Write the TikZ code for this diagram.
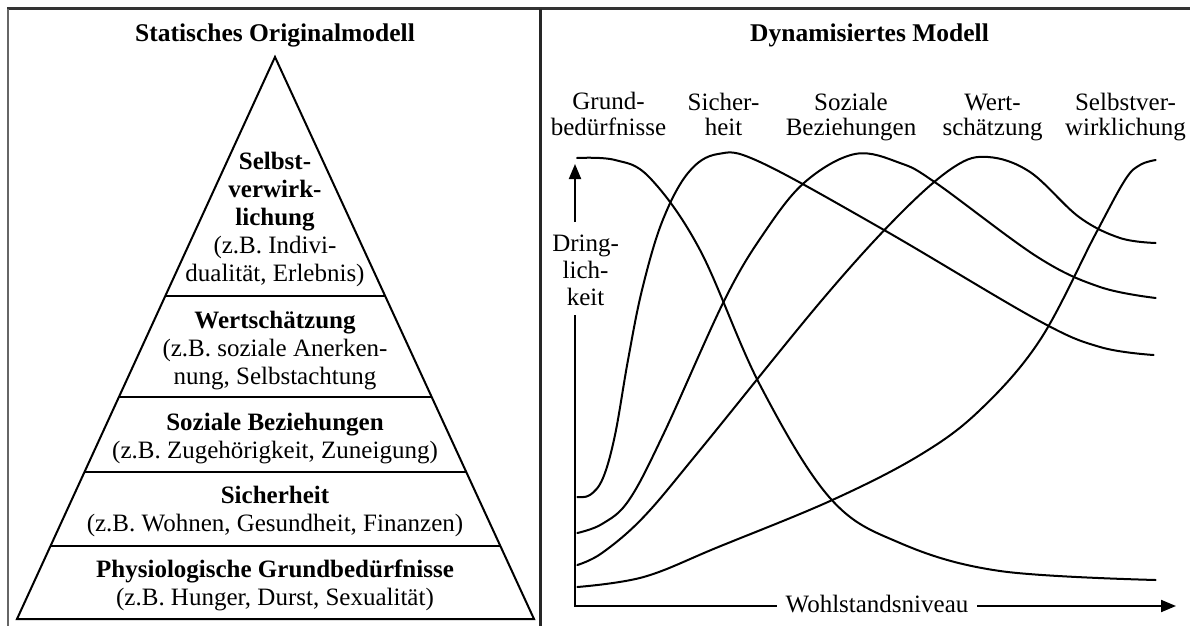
\documentclass[tikz,border=0pt]{standalone}
\usepackage{fontspec}
\setmainfont{Liberation Serif}
\usetikzlibrary{arrows.meta,calc}
\begin{document}
\begin{tikzpicture}[x=1pt,y=-1pt,
  frameline/.style={line width=3pt,black!80},
  layer/.style={line width=2pt,line join=miter},
  curve/.style={line width=2pt,line cap=round},
  txt/.style={font=\fontsize{25}{28}\selectfont,align=center,inner sep=0pt},
  ttl/.style={font=\fontsize{25.5}{28}\selectfont\bfseries,inner sep=0pt},
  lbl/.style={font=\fontsize{25}{25}\selectfont,align=center,inner sep=0pt},
  axisline/.style={line width=2pt},
  axisarrow/.style={line width=2pt,-{Triangle[length=15pt,width=12pt]}}]
\useasboundingbox (0,0) rectangle (1190,626);

% outer frame and divider
\draw[frameline] (7,9) -- (1190,9);
\draw[line width=2pt,black!60] (8,9) -- (8,626);
\draw[line width=3pt,black!85] (540,9) -- (540,626);

% ---------- left panel: pyramid ----------
\node[ttl] (t1) at (275,35.8) {\strut Statisches Originalmodell};
\coordinate (apex) at (275,57);
\coordinate (bl) at (17,619);
\coordinate (br) at (534,619);
\draw[layer] (apex) -- (bl) -- (br) -- cycle;
\foreach \t in {0.4253,0.6050,0.7384,0.8701}
  \draw[layer] ($(apex)!\t!(bl)$) -- ($(apex)!\t!(br)$);

\node[txt] (p5) at (275,220.2) {\strut\textbf{Selbst-}\\\textbf{verwirk-}\\\textbf{lichung}\\(z.B. Indivi-\\dualität, Erlebnis)\strut};
\node[txt] (p4) at (275,350.7) {\strut\textbf{Wertschätzung}\\(z.B. soziale Anerken-\\nung, Selbstachtung\strut};
\node[txt] (p3) at (275,438.7) {\strut\textbf{Soziale Beziehungen}\\(z.B. Zugehörigkeit, Zuneigung)\strut};
\node[txt] (p2) at (275,511.7) {\strut\textbf{Sicherheit}\\(z.B. Wohnen, Gesundheit, Finanzen)\strut};
\node[txt] (p1) at (275,585.7) {\strut\textbf{Physiologische Grundbedürfnisse}\\(z.B. Hunger, Durst, Sexualität)\strut};

% ---------- right panel: dynamic model ----------
\node[ttl] (t2) at (869.5,35.8) {\strut Dynamisiertes Modell};
\node[lbl] (l1) at (608.5,117.7) {\strut Grund-\\bedürfnisse\strut};
\node[lbl] (l2) at (723.5,117.7) {\strut Sicher-\\heit\strut};
\node[lbl] (l3) at (851,117.7) {\strut Soziale\\Beziehungen\strut};
\node[lbl] (l4) at (992.5,117.7) {\strut Wert-\\schätzung\strut};
\node[lbl] (l5) at (1125.5,117.7) {\strut Selbstver-\\wirklichung\strut};

% axes
\coordinate (o) at (575,606);
\coordinate (xt) at (1176,606);
\coordinate (yt) at (575,164);
\coordinate (ya) at (575,222);
\coordinate (yb) at (575,315);
\node[font=\fontsize{25}{27}\selectfont,align=center,inner sep=0pt] (dk) at (585.6,272.8) {\strut Dring-\\lich-\\keit\strut};
\node[lbl,inner xsep=8.5pt] (wn) at (877,604) {Wohlstandsniveau};
\draw[axisarrow] (ya) -- (yt);
\draw[axisline] (yb) -- (o) -- (wn.west |- o);
\draw[axisarrow] (wn.east |- o) -- (xt);

% urgency curves
% basic needs
\draw[curve] plot[smooth,tension=0.6] coordinates {
  (577,158) (615,160) (650,178) (700,250) (760,385) (830,498) (900,543)
  (1000,571) (1155.7,580)};
% safety
\draw[curve] plot[smooth,tension=0.6] coordinates {
  (577.3,497) (590,495) (603,478) (615,435) (628,360) (642,290) (662,222)
  (688,173) (718,154) (760,162) (884,230) (1037.5,320) (1100,347) (1153.6,355)};
% social relations
\draw[curve] plot[smooth,tension=0.6] coordinates {
  (577.3,533) (602,524) (629,500) (664,433) (724.5,300) (764,233) (805,182)
  (855,154) (900,163) (936,183) (1037.5,257) (1100,287) (1155.7,298)};
% esteem
\draw[curve] plot[smooth,tension=0.6] coordinates {
  (577.3,565) (602,553) (643.6,517) (700,450) (822,300) (900,214) (954,167)
  (988,157) (1030,172) (1079,217) (1120,238) (1155.7,243)};
% self-actualisation
\draw[curve] plot[smooth,tension=0.6] coordinates {
  (577.3,587) (643.6,577) (718.3,547) (832.3,500) (920,455) (980,410)
  (1040,340) (1095,235) (1125,180) (1140,165) (1155.7,160)};
\end{tikzpicture}
\end{document}
